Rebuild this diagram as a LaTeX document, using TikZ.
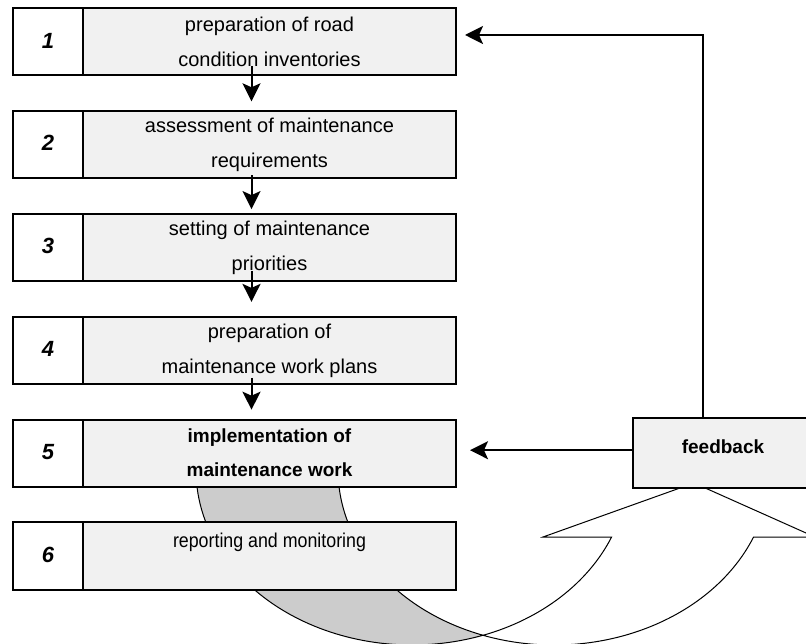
\documentclass[tikz,border=0pt]{standalone}
\usepackage{fontspec}
\setmainfont{Liberation Sans}
\newfontfamily\narrowsans[FakeStretch=0.89]{Liberation Sans}
\usetikzlibrary{arrows.meta,positioning}
\definecolor{boxgray}{HTML}{F1F1F1}
\definecolor{bandgray}{HTML}{CCCCCC}

\begin{document}
\begin{tikzpicture}[
  x=1pt, y=1pt,
  font=\fontsize{20}{35}\selectfont,
  node distance=35.8pt,
  numcell/.style={draw,line width=2pt,fill=white,minimum width=70pt,minimum height=67pt,outer sep=0pt,inner sep=0pt,text depth=3pt,font=\fontsize{22}{26}\selectfont\bfseries\itshape},
  stepbox/.style={draw,line width=2pt,fill=boxgray,minimum width=373pt,minimum height=67pt,outer sep=0pt,inner sep=2pt,align=center},
  band/.style={line width=1pt,draw=black},
  arr/.style={-{Stealth[length=18pt,width=18pt,inset=4pt]},line width=2pt}
]
\useasboundingbox (0,0) rectangle (806,643);
\clip (0,0) rectangle (806,643);
\fill[white] (0,0) rectangle (806,643);
\filldraw[band,fill=bandgray] (196,173) arc[start angle=180,end angle=289.2,x radius=216,y radius=175]
  arc[start angle=250.8,end angle=180,x radius=216,y radius=175] -- cycle;
\filldraw[band,fill=white] (483,7.7) arc[start angle=250.8,end angle=337.5,x radius=216,y radius=175]
  -- (815,106) -- (694,160) -- (543,106) -- (611.6,106)
  arc[start angle=337.5,end angle=289.2,x radius=216,y radius=175] -- cycle;
\node[numcell] (n1) at (48,601) {1};
\node[stepbox,right=0pt of n1] (s1) {preparation of road\\condition inventories};
\node[numcell,below=of n1] (n2) {2};
\node[stepbox,right=0pt of n2] (s2) {assessment of maintenance\\requirements};
\node[numcell,below=of n2] (n3) {3};
\node[stepbox,right=0pt of n3] (s3) {setting of maintenance\\priorities};
\node[numcell,below=of n3] (n4) {4};
\node[stepbox,right=0pt of n4] (s4) {preparation of\\maintenance work plans};
\node[numcell,below=of n4] (n5) {5};
\node[stepbox,right=0pt of n5,font=\fontsize{19}{34}\selectfont\bfseries] (s5) {implementation of\\maintenance work};
\node[numcell,below=of n5] (n6) {6};
\node[stepbox,right=0pt of n6,text height=14pt,text depth=31pt,font=\fontsize{20}{35}\narrowsans] (s6) {reporting and monitoring};
\node[stepbox,right=177pt of s5,minimum width=180pt,minimum height=70pt,text height=14pt,text depth=14pt,font=\fontsize{19}{35}\selectfont\bfseries] (fb) {feedback};
\foreach \a/\b/\s/\g in {1/2/9/10,2/3/3/5,3/4/10/15,4/5/6/10}
  \draw[arr] ([xshift=-18pt,yshift=\s pt]s\a.south) -- ([xshift=-18pt,yshift=\g pt]s\b.north);
\draw[arr] ([xshift=-20pt]fb.north) |- ([xshift=9pt,yshift=7pt]s1.east);
\draw[arr] ([yshift=3pt]fb.west) -- ([xshift=14pt,yshift=3pt]s5.east);
\end{tikzpicture}
\end{document}
